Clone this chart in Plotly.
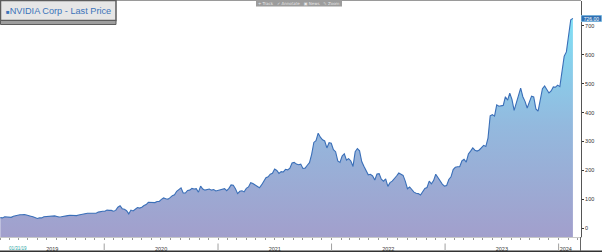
import plotly.graph_objects as go
import pandas as pd

# ---------------- data (weekly closes) ----------------
START_DATE = "2019-02-01"
prices_2019 = [37, 36, 40, 40, 40, 38, 42, 44, 45, 47, 47, 48, 46, 45, 42, 40, 37, 34,
               36, 36, 40, 41, 41, 42, 42, 43, 41, 39, 40, 42, 42, 44, 45, 44, 43, 44,
               46, 48, 50, 51, 52, 52, 52, 54, 52, 56, 58, 59]
prices_2020 = [59, 63, 62, 62, 59, 62, 73, 78, 68, 66, 61, 50, 63, 60, 66, 72, 70, 73,
               79, 82, 90, 89, 88, 89, 93, 93, 100, 105, 102, 101, 106, 113, 116, 128,
               134, 140, 122, 122, 131, 132, 138, 136, 137, 125, 146, 136, 132, 134,
               136, 132, 134, 129]
prices_2021 = [131, 133, 135, 137, 130, 138, 150, 149, 137, 120, 128, 130, 126, 138,
               143, 158, 155, 150, 145, 140, 150, 162, 175, 178, 187, 190, 205, 200,
               190, 196, 195, 204, 202, 208, 226, 228, 222, 220, 222, 207, 208, 218,
               227, 256, 297, 303, 329, 315, 306, 302, 278, 296, 294]
prices_2022 = [272, 265, 233, 228, 250, 258, 236, 241, 233, 214, 265, 276, 268, 231,
               215, 199, 185, 187, 181, 167, 188, 189, 170, 163, 171, 145, 158, 163,
               174, 181, 191, 188, 183, 163, 137, 143, 132, 125, 121, 120, 115, 125,
               138, 141, 163, 154, 165, 187, 175, 166, 153, 146]
prices_2023 = [148, 169, 178, 203, 211, 213, 213, 233, 239, 229, 257, 267, 278, 270,
               267, 271, 278, 287, 283, 312, 389, 393, 388, 427, 422, 423, 425, 455,
               443, 467, 446, 408, 433, 460, 485, 455, 439, 416, 435, 457, 454, 413,
               405, 450, 483, 492, 478, 468, 475, 489, 488, 495]
prices_2024 = [490, 547, 595, 610, 662, 721, 726]

prices = prices_2019 + prices_2020 + prices_2021 + prices_2022 + prices_2023 + prices_2024
dates = pd.date_range(START_DATE, periods=len(prices), freq="7D")

year_labels = ["2019", "2020", "2021", "2022", "2023", "2024"]
y_ticks = [0, 100, 200, 300, 400, 500, 600, 700]
TITLE = "NVIDIA Corp - Last Price"
START_LABEL = "01/31/19"

Y_MIN, Y_MAX = -30, 786
X_RANGE = ["2019-01-31", "2024-03-13"]

# ---------------- layout helpers ----------------
W, H = 602, 252
ML, MR, MT, MB = 0, 21, 1, 15
PW, PH = W - ML - MR, H - MT - MB


def px(x):
    return (x - ML) / PW


def py(y):
    return (H - MB - y) / PH


# year label positions: centre of visible part of each year
first, last = dates[0], dates[-1]
label_pos = []
for yl in year_labels:
    ys = max(pd.Timestamp(f"{yl}-01-01"), first)
    ye = min(pd.Timestamp(f"{int(yl) + 1}-01-01"), last)
    label_pos.append(ys + (ye - ys) / 2)

fig = go.Figure()

# baseline for the area fill (bottom of the axis)
fig.add_trace(go.Scatter(x=dates, y=[Y_MIN] * len(prices), mode="lines",
                         line=dict(width=0), hoverinfo="skip", showlegend=False))
fig.add_trace(go.Scatter(
    x=dates, y=prices, mode="lines", fill="tonexty",
    line=dict(color="#3a6fb8", width=1.1),
    fillgradient=dict(type="vertical", start=Y_MIN, stop=740,
                      colorscale=[[0, "#a29fcc"], [0.5, "#93b9de"], [1, "#7fe1f6"]]),
    showlegend=False, name=TITLE))

shapes = []
# top border line
shapes.append(dict(type="line", xref="paper", yref="paper", x0=px(0), x1=px(581),
                   y0=py(0.5), y1=py(0.5), line=dict(color="#9a9a9a", width=1)))
# bottom border
shapes.append(dict(type="line", xref="paper", yref="paper", x0=px(0), x1=px(602),
                   y0=py(251.3), y1=py(251.3), line=dict(color="#333333", width=1.5)))
# axis line extension into label band
shapes.append(dict(type="line", xref="paper", yref="paper", x0=px(580.5), x1=px(580.5),
                   y0=py(237), y1=py(251), line=dict(color="#666666", width=1)))
# year separators
for yl in year_labels[1:]:
    shapes.append(dict(type="line", xref="x", yref="paper", x0=f"{yl}-01-01", x1=f"{yl}-01-01",
                       y0=py(243.5), y1=py(251), line=dict(color="#a0a0a0", width=1)))
# title box
shapes.append(dict(type="rect", xref="paper", yref="paper", x0=px(0.5), x1=px(116),
                   y0=py(0.5), y1=py(20.5), fillcolor="#e6e6e6",
                   line=dict(color="#5c5c5c", width=1.5)))
shapes.append(dict(type="rect", xref="paper", yref="paper", x0=px(0.5), x1=px(116),
                   y0=py(20.5), y1=py(24.5), fillcolor="#9e9e9e",
                   line=dict(color="#5c5c5c", width=1)))
# toolbar
shapes.append(dict(type="rect", xref="paper", yref="paper", x0=px(256), x1=px(342),
                   y0=py(0), y1=py(6.5), fillcolor="#9c9c9c", line=dict(width=0)))

annotations = [
    dict(xref="paper", yref="paper", x=px(4), y=py(10.5), xanchor="left", yanchor="middle",
         showarrow=False,
         text="<span style='font-size:6px'>■</span>" + TITLE,
         font=dict(family="Liberation Sans, Arial", size=9.2, color="#3c74ba")),
    dict(xref="paper", yref="paper", x=px(299), y=py(3.3), xanchor="center", yanchor="middle",
         showarrow=False, text="+ Track   ✓ Annotate   ▣ News   ✎ Zoom",
         font=dict(family="DejaVu Sans", size=4, color="#e8e8e8")),
    dict(xref="paper", yref="y", x=px(591), y=prices[-1], xanchor="center", yanchor="middle",
         showarrow=False, text=f"{prices[-1]:.2f}", width=20, height=6,
         bgcolor="#2f6fb3", bordercolor="#8fd0ee", borderwidth=0.5, borderpad=0,
         font=dict(family="Liberation Sans, Arial", size=5, color="#ffffff")),
    dict(xref="paper", yref="paper", x=px(17.5), y=py(248.3), xanchor="center", yanchor="middle",
         showarrow=False, text=START_LABEL,
         font=dict(family="Liberation Sans, Arial", size=4.5, color="#2aa5a5")),
]

fig.update_layout(
    width=W, height=H,
    margin=dict(l=ML, r=MR, t=MT, b=MB, pad=0),
    paper_bgcolor="#ffffff", plot_bgcolor="#ffffff",
    shapes=shapes, annotations=annotations,
    showlegend=False,
    xaxis=dict(type="date", range=X_RANGE, tickmode="array", tickvals=label_pos,
               ticktext=year_labels, ticks="", showgrid=False, zeroline=False,
               showline=True, linecolor="#c8c8c8", linewidth=1,
               tickfont=dict(family="Liberation Sans, Arial", size=5.5, color="#333333"),
               ticklabelstandoff=6, automargin=False,
               minor=dict(tickmode="linear", tick0="2019-01-01", dtick="M1",
                          ticks="outside", ticklen=2, tickcolor="#999999", showgrid=False)),
    yaxis=dict(side="right", range=[Y_MIN, Y_MAX], tickmode="array", tickvals=y_ticks,
               ticks="outside", ticklen=2, tickcolor="#333333", showgrid=False,
               zeroline=False, showline=True, linecolor="#555555", linewidth=1,
               tickfont=dict(family="Liberation Sans, Arial", size=5.5, color="#333333"),
               automargin=False),
)

fig.write_html("out.html")
